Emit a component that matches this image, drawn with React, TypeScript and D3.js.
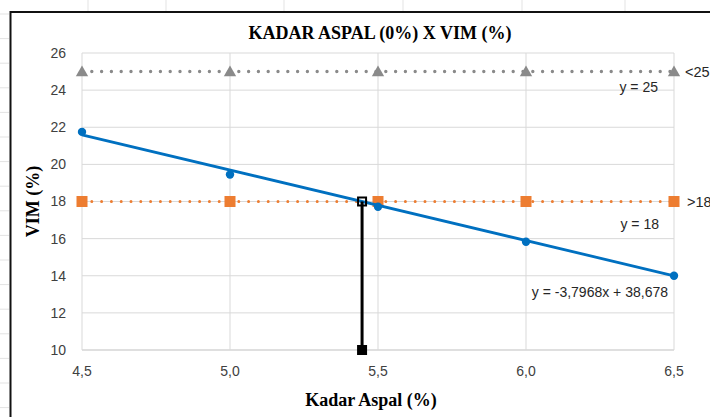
import React from 'react'
import * as d3 from 'd3'

// data
const kadarAspal = [4.5, 5.0, 5.5, 6.0, 6.5]
const vim = [21.75, 19.45, 17.72, 15.83, 14.0]
const batasAtas = [25, 25, 25, 25, 25]
const batasBawah = [18, 18, 18, 18, 18]
const trendSlope = -3.7968
const trendIntercept = 38.678
const optimumY = [18, 10]
const xTickValues = [4.5, 5.0, 5.5, 6.0, 6.5]
const yTickValues = [10, 12, 14, 16, 18, 20, 22, 24, 26]
const labelAtas = '<25'
const labelBawah = '>18'
const eqAtas = 'y = 25'
const eqBawah = 'y = 18'
const eqTrend = 'y = -3,7968x + 38,678'
const title = 'KADAR ASPAL (0%) X VIM (%)'
const xTitle = 'Kadar Aspal (%)'
const yTitle = 'VIM (%)'

const W = 710
const H = 417
const margin = { top: 53, right: 36, bottom: 67, left: 82 }

const App = () => {
  const x = d3.scaleLinear()
    .domain([4.5, 6.5])
    .range([margin.left, W - margin.right])

  const y = d3.scaleLinear()
    .domain([10, 26])
    .range([H - margin.bottom, margin.top])

  const pts = (ys: number[]) => kadarAspal.map((k, i) => [k, ys[i]] as [number, number])

  const line = d3.line<[number, number]>()
    .x(d => x(d[0]))
    .y(d => y(d[1]))

  // where the trend line crosses the lower limit
  const optX = (trendIntercept - batasBawah[0]) / -trendSlope
  const trendPts: [number, number][] = [4.5, 6.5].map(k => [k, trendSlope * k + trendIntercept])
  const optPts: [number, number][] = optimumY.map(v => [optX, v])

  const tickFont = '"Liberation Sans", Arial, sans-serif'
  const serif = '"Liberation Serif", "Times New Roman", serif'
  const tri = d3.symbol(d3.symbolTriangle, 66)()

  return (
    <svg
      width={W}
      height={H}
      viewBox={`0 0 ${W} ${H}`}
      style={{ position: 'absolute', left: 0, top: 0, background: '#fff' }}
    >
      {/* spreadsheet cells behind the chart */}
      {d3.range(14, H, 24.6).map((v, i) => (
        <line key={'r' + i} x1={0} x2={9} y1={v} y2={v} stroke="#e3e3e3" />
      ))}
      {[88, 166, 284, 403, 522, 625].map((v, i) => (
        <line key={'c' + i} x1={v} x2={v} y1={0} y2={11} stroke="#e3e3e3" />
      ))}
      <path d={`M${W},12H10.5V${H}`} fill="none" stroke="#111" strokeWidth={2} />

      {/* grid */}
      {yTickValues.map(t => (
        <line key={'gy' + t} x1={x(4.5)} x2={x(6.5)} y1={y(t)} y2={y(t)}
          stroke={t === 10 ? '#bfbfbf' : '#d9d9d9'} strokeWidth={1} />
      ))}
      {xTickValues.map(t => (
        <line key={'gx' + t} x1={x(t)} x2={x(t)} y1={y(10)} y2={y(26)}
          stroke="#d9d9d9" strokeWidth={1} />
      ))}

      {/* ticks */}
      {yTickValues.map(t => (
        <text key={'ty' + t} x={x(4.5) - 16} y={y(t)} dy="0.35em" textAnchor="end"
          fontFamily={tickFont} fontSize={14} fill="#404040">{t}</text>
      ))}
      {xTickValues.map(t => (
        <text key={'tx' + t} x={x(t)} y={y(10) + 26} textAnchor="middle"
          fontFamily={tickFont} fontSize={14} fill="#404040">
          {d3.format('.1f')(t).replace('.', ',')}
        </text>
      ))}

      {/* upper limit */}
      <path d={line(pts(batasAtas)) || ''} fill="none" stroke="#8a8a8a" strokeWidth={3.4}
        strokeDasharray="0 9.8" strokeLinecap="round" />
      {pts(batasAtas).map((d, i) => (
        <path key={'a' + i} d={tri || ''} transform={`translate(${x(d[0])},${y(d[1]) + 1})`} fill="#8a8a8a" />
      ))}

      {/* lower limit */}
      <path d={line(pts(batasBawah)) || ''} fill="none" stroke="#ed7d31" strokeWidth={3}
        strokeDasharray="0 9.8" strokeLinecap="round" />
      {pts(batasBawah).map((d, i) => (
        <rect key={'b' + i} x={x(d[0]) - 5.5} y={y(d[1]) - 5.5} width={11} height={11} fill="#ed7d31" />
      ))}

      {/* VIM + trend */}
      <path d={line(trendPts) || ''} fill="none" stroke="#0070c0" strokeWidth={2.8} />
      {pts(vim).map((d, i) => (
        <circle key={'v' + i} cx={x(d[0])} cy={y(d[1])} r={4.2} fill="#0070c0" />
      ))}

      {/* optimum marker */}
      <path d={line(optPts) || ''} fill="none" stroke="#000" strokeWidth={3} />
      <rect x={x(optX) - 4} y={y(optimumY[0]) - 4} width={8} height={8} fill="none" stroke="#000" strokeWidth={2} />
      <rect x={x(optX) - 5} y={y(optimumY[1]) - 5} width={10} height={10} fill="#000" />

      {/* labels */}
      <text x={x(6.5) + 11} y={y(25)} dy="0.35em" fontFamily={tickFont} fontSize={14.5} fill="#262626">{labelAtas}</text>
      <text x={x(6.5) + 13} y={y(18)} dy="0.35em" fontFamily={tickFont} fontSize={14.5} fill="#262626">{labelBawah}</text>
      <text x={x(6.5) - 16} y={y(25) + 16} dy="0.35em" textAnchor="end" fontFamily={tickFont} fontSize={14} fill="#262626">{eqAtas}</text>
      <text x={x(6.5) - 15} y={y(18) + 23} dy="0.35em" textAnchor="end" fontFamily={tickFont} fontSize={14} fill="#262626">{eqBawah}</text>
      <text x={x(6.5) - 6} y={y(14) + 16} dy="0.35em" textAnchor="end" fontFamily={tickFont} fontSize={14} fill="#262626">{eqTrend}</text>

      {/* titles */}
      <text x={380} y={39} textAnchor="middle" fontFamily={serif} fontWeight="bold" fontSize={18} fill="#000">{title}</text>
      <text x={371} y={406} textAnchor="middle" fontFamily={serif} fontWeight="bold" fontSize={18} fill="#000">{xTitle}</text>
      <text transform={`translate(39,${(y(10) + y(26)) / 2}) rotate(-90)`} textAnchor="middle"
        fontFamily={serif} fontWeight="bold" fontSize={18} fill="#000">{yTitle}</text>
    </svg>
  )
}

export default App
